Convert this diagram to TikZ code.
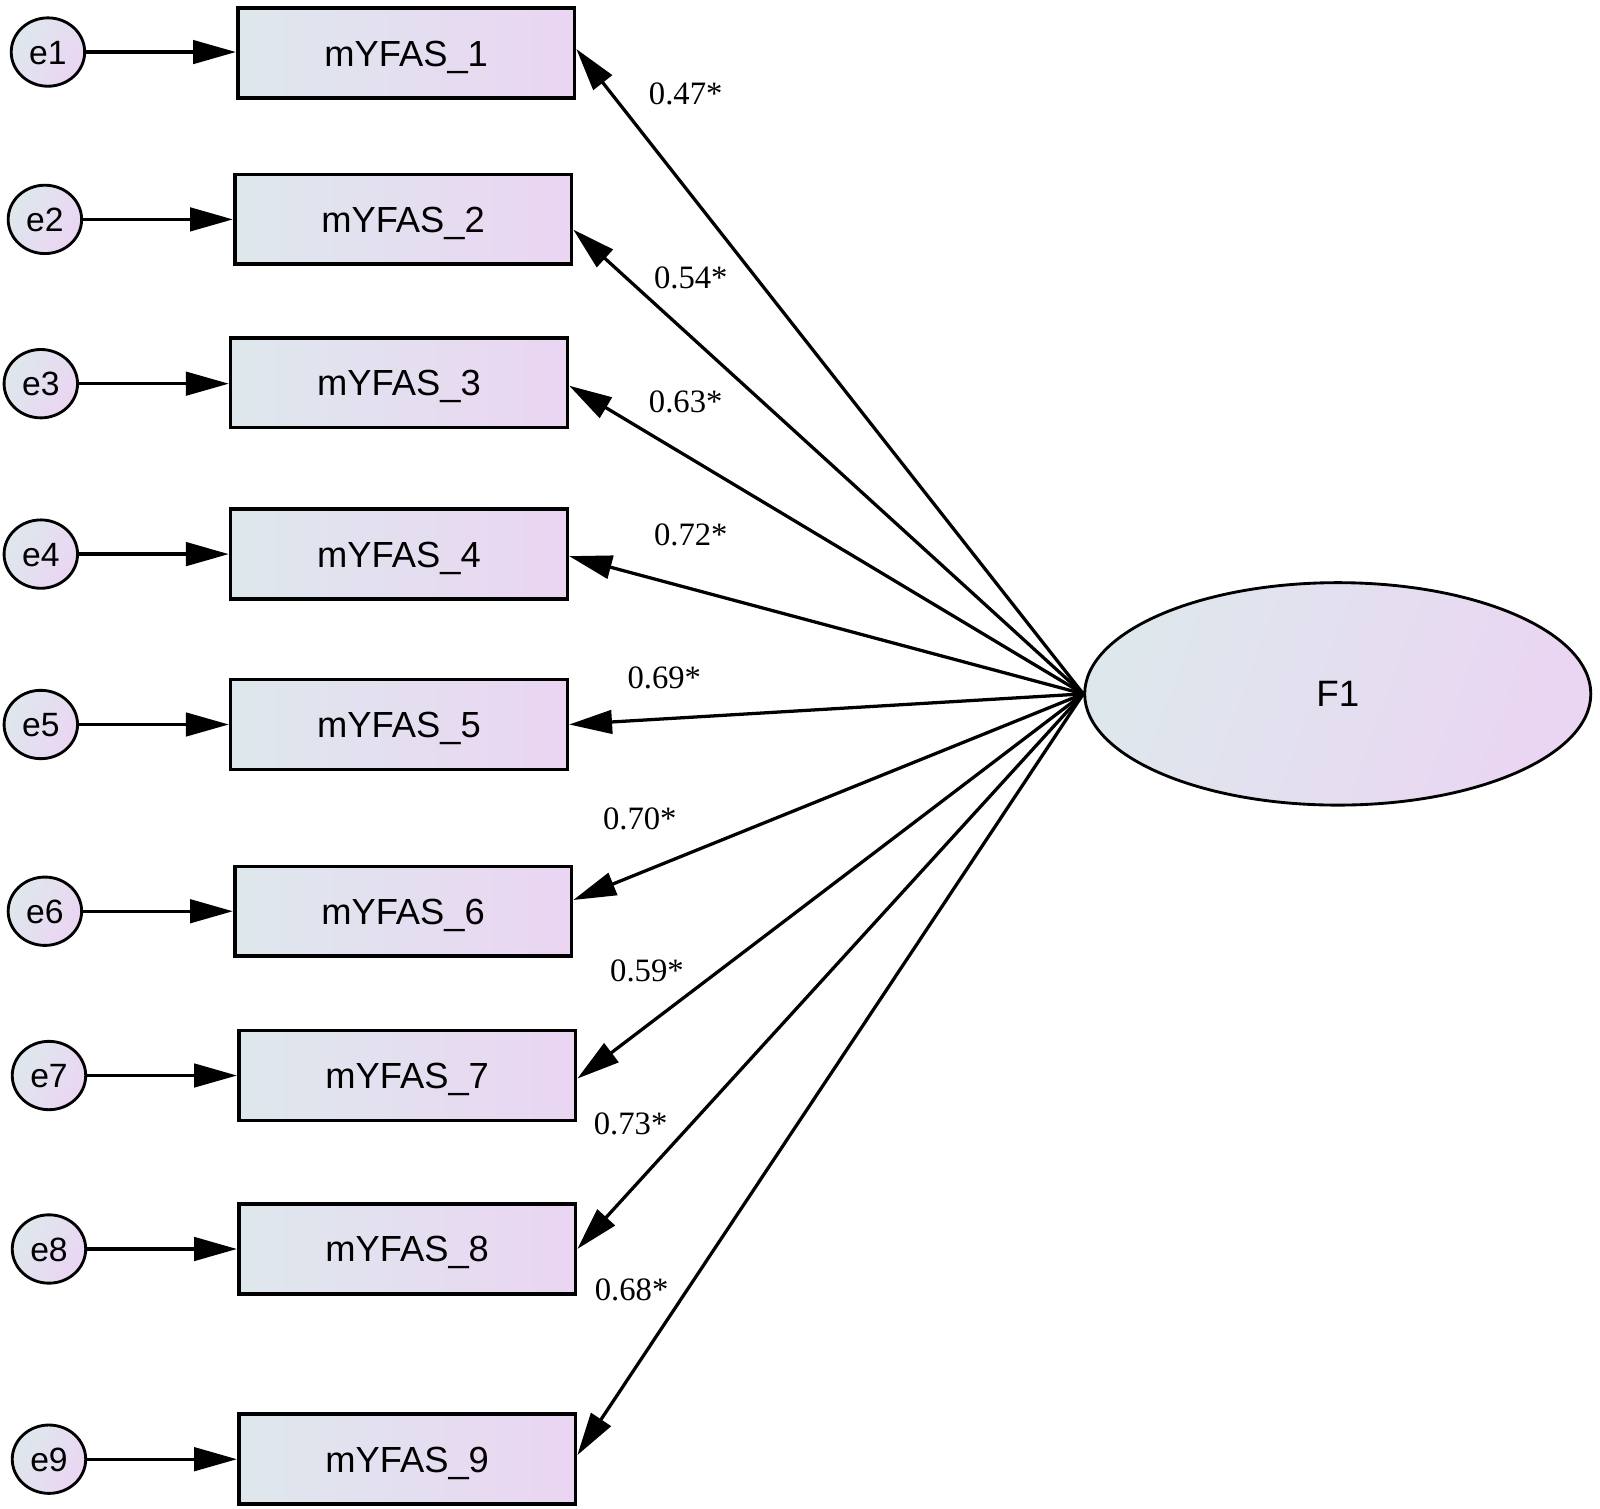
\documentclass[tikz,border=0pt]{standalone}
\usepackage{fontspec}
\setmainfont{Liberation Serif}
\setsansfont{Liberation Sans}
\usetikzlibrary{arrows.meta,shapes.geometric,calc}
\definecolor{gL}{RGB}{222,232,236}
\definecolor{gR}{RGB}{234,213,243}
\begin{document}
\begin{tikzpicture}[x=0.5pt,y=-0.5pt,
  obs/.style={draw,line width=1.8pt,left color=gL,right color=gR,minimum width=165pt,minimum height=44pt,inner sep=0pt,text height=12.7pt,text depth=0pt,font=\sffamily\fontsize{17.8}{20}\selectfont},
  err/.style={ellipse,draw,line width=1.4pt,left color=gL,right color=gR,shading angle=60,minimum width=36pt,minimum height=33.5pt,inner sep=0pt,text height=11.8pt,text depth=0pt,font=\sffamily\fontsize{16.5}{18}\selectfont},
  lat/.style={ellipse,draw,line width=1.4pt,left color=gL,right color=gR,shading angle=70,minimum width=248pt,minimum height=109pt,inner sep=0pt,font=\sffamily\fontsize{18}{20}\selectfont},
  arr/.style={-{Triangle[length=21pt,width=11.5pt]},line width=1.6pt},
  lab/.style={font=\fontsize{16}{18}\selectfont,inner sep=0pt}]
\useasboundingbox (0,0) rectangle (1568,1478);
\node[obs] (b1) at (398,52) {mYFAS\_1};
\node[obs] (b2) at (395,215) {mYFAS\_2};
\node[obs] (b3) at (391,375) {mYFAS\_3};
\node[obs] (b4) at (391,543) {mYFAS\_4};
\node[obs] (b5) at (391,710) {mYFAS\_5};
\node[obs] (b6) at (395,893) {mYFAS\_6};
\node[obs] (b7) at (399,1054) {mYFAS\_7};
\node[obs] (b8) at (399,1224) {mYFAS\_8};
\node[obs] (b9) at (399,1430) {mYFAS\_9};
\node[err] (e1) at (47,51) {e1};
\node[err] (e2) at (44,215) {e2};
\node[err] (e3) at (40,376) {e3};
\node[err] (e4) at (40,543) {e4};
\node[err] (e5) at (40,710) {e5};
\node[err] (e6) at (44,893) {e6};
\node[err] (e7) at (48,1054) {e7};
\node[err] (e8) at (48,1224) {e8};
\node[err] (e9) at (48,1430) {e9};
\node[lat] (F1) at (1311,680) {F1};
\foreach \i in {1,...,9}{
  \draw[arr] (e\i.east) -- (e\i.east -| b\i.west);
}
\draw[arr] (F1.west) -- ($(b1.east)+(0,-4)$);
\draw[arr] (F1.west) -- ($(b2.east)+(0,10)$);
\draw[arr] (F1.west) -- ($(b3.east)+(0,3)$);
\draw[arr] (F1.west) -- ($(b4.east)+(0,2)$);
\draw[arr] (F1.west) -- (b5.east);
\draw[arr] (F1.west) -- ($(b6.east)+(0,-11)$);
\draw[arr] (F1.west) -- ($(b7.east)+(0,3)$);
\draw[arr] (F1.west) -- (b8.east);
\draw[arr] (F1.west) -- ($(b9.east)+(0,-4)$);
\node[lab] (l1) at (672,92) {0.47*};
\node[lab] (l2) at (677,272) {0.54*};
\node[lab] (l3) at (672,394) {0.63*};
\node[lab] (l4) at (677,524) {0.72*};
\node[lab] (l5) at (651,664) {0.69*};
\node[lab] (l6) at (627,802) {0.70*};
\node[lab] (l7) at (634,951) {0.59*};
\node[lab] (l8) at (618,1101) {0.73*};
\node[lab] (l9) at (619,1264) {0.68*};
\end{tikzpicture}
\end{document}
